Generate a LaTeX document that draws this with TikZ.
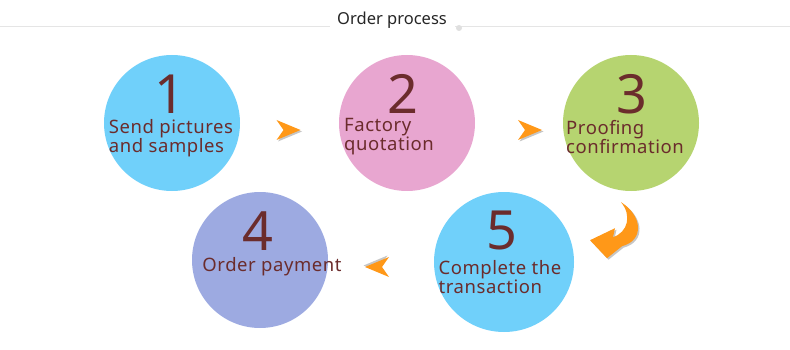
\documentclass[tikz,border=0pt]{standalone}
\usepackage{fontspec}
\setmainfont{Noto Sans}
\newfontfamily\stepfont[LetterSpace=3]{Noto Sans}
\usetikzlibrary{positioning, calc}

\definecolor{skyfill}{RGB}{112,208,250}
\definecolor{pinkfill}{RGB}{232,166,208}
\definecolor{greenfill}{RGB}{182,212,112}
\definecolor{lilacfill}{RGB}{157,170,225}
\definecolor{arrowfill}{RGB}{255,152,24}
\definecolor{textbrown}{RGB}{107,44,44}

\begin{document}
\begin{tikzpicture}[
    x=1pt, y=-1pt,
    stepcircle/.style={circle, minimum size=136pt, inner sep=0pt},
    digit/.style={text=textbrown, font=\fontsize{54}{54}\selectfont, inner sep=0pt},
    steptext/.style={text=textbrown, align=left, font=\stepfont\fontsize{18.5}{18}\selectfont, inner sep=0pt},
    darthead/.pic={
        \fill[gray!45] (13.5,1.5) -- (-10.5,-8.5) -- (-3.5,1.5) -- (-10.5,11.5) -- cycle;
        \fill[arrowfill] (12,0) -- (-12,-10) -- (-5,0) -- (-12,10) -- cycle;
    },
    curlhead/.pic={
        \fill[gray!45, shift={(1.5,1.5)}] (-10,11) .. controls (11,24) and (14,49) .. (-9,55) -- (-24,67) -- (-41,49) -- (-16,37) -- (-18,46) .. controls (-3,41) and (1,24) .. (-10,11) -- cycle;
        \fill[arrowfill] (-10,11) .. controls (11,24) and (14,49) .. (-9,55) -- (-24,67) -- (-41,49) -- (-16,37) -- (-18,46) .. controls (-3,41) and (1,24) .. (-10,11) -- cycle;
    }
]
\useasboundingbox (0,0) rectangle (790,350);

\node[font=\fontsize{16.5}{16.5}\selectfont, text=black!85] (title) at (392,20) {Order process};
\draw[gray!20, line width=1pt] (0,27) -- (330,27) (455,27) -- (790,27);
\fill[gray!25] (459,28) circle (3);

\node[stepcircle, fill=skyfill] (s1) at (172,123) {};
\node[stepcircle, fill=pinkfill] (s2) at (407,123) {};
\node[stepcircle, fill=greenfill] (s3) at (631,123) {};
\node[stepcircle, fill=lilacfill] (s4) at (260,260) {};
\node[stepcircle, fill=skyfill, minimum size=140pt] (s5) at (504,262) {};

\node[digit] (d1) at ($(s1.center)+(-2,-29)$) {1};
\node[steptext] (t1) at ($(s1.center)+(-1,15)$) {Send pictures\\and samples};
\node[digit] (d2) at ($(s2.center)+(-4,-29)$) {2};
\node[steptext] (t2) at ($(s2.center)+(-18,14)$) {Factory\\quotation};
\node[digit] (d3) at ($(s3.center)+(1,-29)$) {3};
\node[steptext] (t3) at ($(s3.center)+(-6,14)$) {Proofing\\confirmation};
\node[digit] (d4) at ($(s4.center)+(-2,-29)$) {4};
\node[steptext] (t4) at ($(s4.center)+(12,7)$) {Order payment};
\node[digit] (d5) at ($(s5.center)+(-2,-32)$) {5};
\node[steptext] (t5) at ($(s5.center)+(-4,15)$) {Complete the\\transaction};

\pic at ($(s1.east)!0.5!(s2.west)+(-1,7)$) {darthead};
\pic at ($(s2.east)!0.5!(s3.west)+(11,7)$) {darthead};
\pic at (s3.south) {curlhead};
\pic[rotate=180] at ($(s4.east)!0.5!(s5.west)+(-4,6)$) {darthead};

\end{tikzpicture}
\end{document}
